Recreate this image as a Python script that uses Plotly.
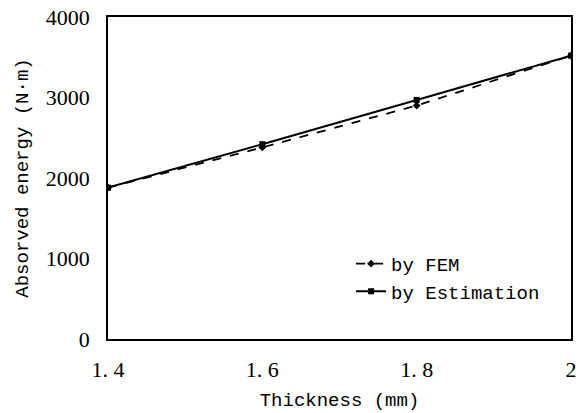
import plotly.graph_objects as go

thickness = [1.4, 1.6, 1.8, 2.0]
fem = [1880, 2380, 2900, 3520]
estimation = [1880, 2420, 2970, 3520]
x_tick_vals = [1.4, 1.6, 1.8, 2.0]
x_tick_text = ["1. 4", "1. 6", "1. 8", "2"]
y_tick_vals = [0, 1000, 2000, 3000, 4000]

fig = go.Figure()
fig.add_trace(go.Scatter(
    x=thickness, y=fem, name="by FEM", mode="lines+markers",
    line=dict(color="black", width=1.8, dash="dash"),
    marker=dict(symbol="diamond", size=6, color="black"),
))
fig.add_trace(go.Scatter(
    x=thickness, y=estimation, name="by Estimation", mode="lines+markers",
    line=dict(color="black", width=2),
    marker=dict(symbol="square", size=6, color="black"),
))

fig.update_layout(
    width=582, height=413,
    margin=dict(l=108, r=11, t=17, b=74),
    paper_bgcolor="white", plot_bgcolor="white",
    showlegend=True,
    legend=dict(x=0.525, y=0.19, xanchor="left", yanchor="middle",
                bgcolor="rgba(0,0,0,0)",
                font=dict(family="Liberation Mono", size=19, color="black"),
                tracegroupgap=0, itemwidth=30),
    font=dict(family="Liberation Serif", size=16, color="black"),
)
fig.update_xaxes(
    range=[1.4, 2.0], tickvals=x_tick_vals, ticktext=x_tick_text,
    showgrid=False, zeroline=False, showline=True, mirror=True,
    linecolor="black", linewidth=1.5, ticks="", ticklabelstandoff=10,
    automargin=False,
    tickfont=dict(family="Liberation Serif", size=22),
    title=dict(text="Thickness (mm)", standoff=12,
               font=dict(family="Liberation Mono", size=19)),
)
fig.update_yaxes(
    range=[0, 4000], tickvals=y_tick_vals,
    showgrid=False, zeroline=False, showline=True, mirror=True,
    linecolor="black", linewidth=1.5, ticks="", ticklabelstandoff=12,
    automargin=False,
    tickfont=dict(family="Liberation Serif", size=22),
    title=dict(text="Absorved energy (N·m)", standoff=12,
               font=dict(family="Liberation Mono", size=19)),
)

fig.write_html("out.html")
